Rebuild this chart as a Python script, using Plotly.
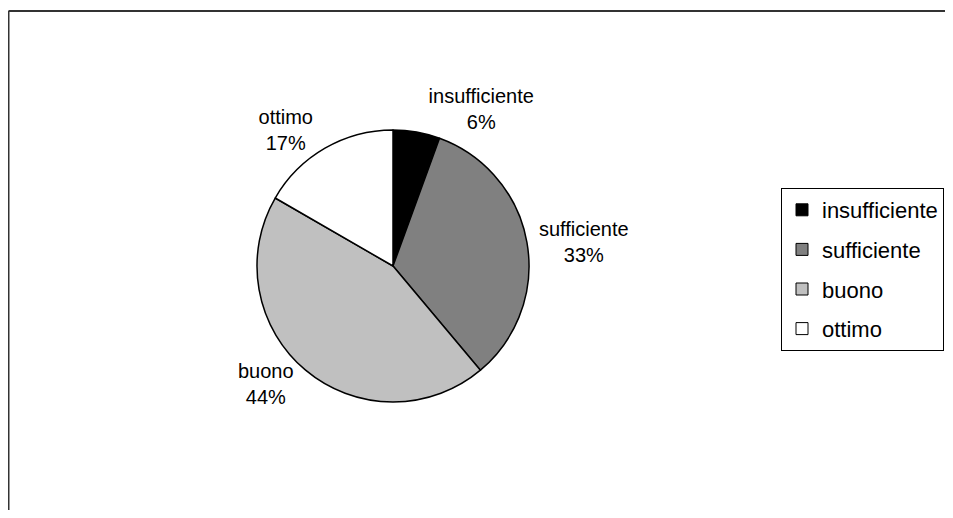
import plotly.graph_objects as go

# ---- data ----
categories = ["insufficiente", "sufficiente", "buono", "ottimo"]
counts = [1, 6, 8, 3]

# ---- style ----
slice_colors = ["#000000", "#808080", "#C0C0C0", "#FFFFFF"]
W, H = 937, 502            # page adds an 8px body margin; avoid scrollbars
cx, cy, r = 385, 258, 136  # pie centre / radius in figure pixels
FONT = "Arial, Liberation Sans, sans-serif"

fig = go.Figure()
fig.add_trace(go.Pie(
    labels=categories, values=counts, sort=False,
    direction="clockwise", rotation=0,
    marker=dict(colors=slice_colors, line=dict(color="black", width=1.5)),
    textposition="outside",
    texttemplate="%{label}<br>%{percent:.0%}",
    textfont=dict(family=FONT, size=20, color="black"),
    domain=dict(x=[(cx - r) / W, (cx + r) / W],
                y=[(H - cy - r) / H, (H - cy + r) / H]),
    showlegend=False, hoverinfo="label+percent",
))

# legend entries (one group per category to get Excel-like spacing)
for cat, col in zip(categories, slice_colors):
    fig.add_trace(go.Scatter(
        x=[None], y=[None], mode="markers", name=cat, legendgroup=cat,
        marker=dict(symbol="square", size=12, color=col,
                    line=dict(color="black", width=1)),
    ))

fig.update_layout(
    width=W, height=H,
    margin=dict(l=0, r=0, t=0, b=0, autoexpand=False),
    paper_bgcolor="white", plot_bgcolor="white",
    xaxis=dict(visible=False), yaxis=dict(visible=False),
    legend=dict(
        x=773 / W, y=1 - 180 / H, xanchor="left", yanchor="top",
        bgcolor="white", bordercolor="black", borderwidth=1,
        font=dict(family=FONT, size=22, color="black"),
        tracegroupgap=8, traceorder="grouped",
        entrywidth=160, entrywidthmode="pixels",
    ),
    shapes=[
        dict(type="line", xref="paper", yref="paper",
             x0=0.5 / W, x1=1.0, y0=1 - 3 / H, y1=1 - 3 / H,
             line=dict(color="#333333", width=2)),
        dict(type="line", xref="paper", yref="paper",
             x0=0.5 / W, x1=0.5 / W, y0=0, y1=1 - 3 / H,
             line=dict(color="#333333", width=2)),
    ],
)

fig.write_html("out.html")
